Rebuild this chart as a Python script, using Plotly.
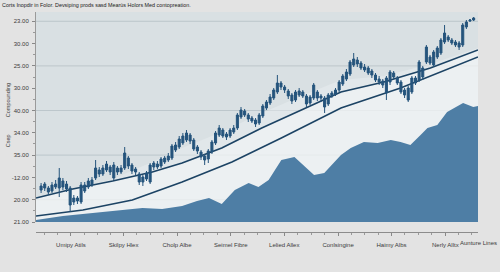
import plotly.graph_objects as go
import numpy as np

# ---------------- data ----------------
title_text = "Corts Inopdir in Folor. Devsiping prods sasd Mearùs Holors Med contopreation."

y_tick_labels = ["21.00", "20.00", "-12.00", "35.00", "34.00", "40.00", "30.00", "25.00", "30.00", "23.00"]
x_tick_labels = ["Umipy Atils", "Skilpy Hlex", "Cholp Albe", "Seimel Fibre", "Lelied Allex",
                 "Conlsingine", "Haimy Albs", "Nerly Alltx"]
x_tick_pos = [8.2, 22.7, 37.4, 52.2, 66.9, 81.7, 96.4, 111.2]
last_label = "Aunture Lines"

opens = [32, 38, 34, 31, 35, 34, 41, 33, 34, 20, 24, 20, 31, 35, 37, 44, 52, 48, 52, 55,
         44, 54, 50, 54, 64, 57, 53, 48, 40, 43, 40, 55, 58, 56, 60, 62, 64, 72, 75, 79,
         82, 87, 82, 75, 70, 66, 63, 70, 79, 87, 92, 88, 86, 90, 94, 105, 111, 107, 104, 102,
         99, 106, 114, 119, 124, 130, 139, 135, 131, 127, 122, 127, 130, 126, 119, 124, 130, 126, 124, 118,
         126, 128, 132, 138, 143, 148, 157, 162, 159, 155, 154, 151, 147, 143, 141, 144, 140, 145, 144, 140,
         132, 134, 130, 139, 142, 145, 160, 165, 157, 165, 169, 180, 185, 182, 180, 175, 177, 195, 201, 202]
closes = [36, 34, 30, 37, 38, 44, 35, 38, 17, 24, 21, 37, 37, 41, 42, 54, 48, 54, 58, 50,
          57, 50, 54, 69, 56, 51, 50, 40, 45, 49, 57, 59, 55, 63, 64, 66, 76, 77, 83, 86,
          89, 81, 73, 71, 65, 62, 71, 80, 89, 94, 86, 85, 92, 94, 107, 112, 107, 103, 101, 98,
          107, 116, 120, 125, 132, 139, 135, 132, 126, 121, 130, 131, 126, 118, 125, 137, 124, 124, 115, 127,
          129, 132, 140, 146, 150, 160, 163, 158, 154, 152, 149, 147, 142, 140, 137, 129, 150, 149, 139, 130,
          127, 122, 144, 144, 160, 154, 175, 159, 170, 174, 182, 189, 182, 179, 177, 179, 197, 200, 202, 204]
highs = [39, 40, 36, 40, 42, 54, 44, 41, 36, 27, 26, 40, 40, 44, 45, 62, 55, 57, 61, 57,
         60, 56, 57, 75, 66, 59, 55, 50, 47, 51, 59, 61, 61, 65, 66, 69, 78, 80, 86, 89,
         92, 89, 84, 77, 72, 68, 73, 82, 91, 97, 94, 90, 94, 97, 109, 115, 113, 109, 106, 104,
         109, 118, 122, 128, 134, 147, 141, 137, 133, 129, 132, 134, 132, 128, 127, 139, 132, 128, 126, 129,
         131, 134, 142, 148, 153, 162, 169, 165, 161, 158, 156, 153, 149, 146, 143, 146, 152, 151, 146, 142,
         134, 136, 146, 146, 162, 156, 177, 167, 172, 176, 184, 197, 187, 184, 182, 181, 199, 202, 203, 205]
lows = [29, 31, 27, 29, 33, 25, 32, 30, 10, 17, 18, 18, 29, 33, 35, 42, 45, 46, 50, 47,
        42, 47, 48, 52, 53, 48, 47, 37, 36, 41, 38, 52, 53, 54, 58, 60, 62, 70, 73, 77,
        80, 78, 71, 68, 62, 57, 59, 68, 77, 85, 84, 82, 84, 88, 92, 103, 105, 100, 99, 95,
        97, 104, 112, 117, 122, 128, 132, 129, 123, 118, 120, 125, 124, 115, 117, 122, 121, 120, 109, 116,
        124, 126, 130, 136, 141, 146, 155, 155, 152, 150, 147, 144, 140, 137, 134, 122, 137, 143, 137, 128,
        124, 120, 128, 137, 140, 142, 158, 157, 155, 163, 167, 178, 180, 177, 175, 172, 175, 193, 200, 201]

ma_x = [-1.4, 8.7, 19.7, 30.6, 38.8, 49.7, 60.7, 71.6, 82.5, 94.3, 107.1, 120.2]
ma_fast = [24, 33, 41, 50, 59, 74, 94, 112, 130, 140, 154, 172]
band_top = [24, 33, 43, 60, 74, 90, 109, 126, 142, 146, 158, 174]

slow_x = [-1.4, 11.5, 25.1, 38.8, 52.5, 66.1, 82.5, 98.9, 120.2]
ma_slow = [6, 12, 22, 40, 60, 84, 114, 134, 165]

area_x = [-1.4, 6.0, 14.2, 22.4, 27.9, 33.3, 38.8, 42.9, 46.2, 49.7, 53.3, 57.1, 59.8, 62.6,
          66.1, 69.7, 72.4, 75.1, 77.9, 82.5, 85.2, 88.8, 92.6, 96.2, 98.9, 101.6, 104.4,
          106.3, 109.0, 111.7, 116.1, 118.9, 120.2]
area_y = [2, 6, 9, 12, 14, 13, 16, 21, 24, 18, 32, 39, 35, 42, 62, 65, 56, 47, 49, 67, 74, 80,
          79, 82, 80, 77, 87, 94, 97, 110, 119, 115, 116]

# ---------------- styles ----------------
candle_c = "#25547c"
line_c = "#1c4364"
area_c = "#4e7ea5"
tick_font = dict(family="Arial", size=6, color="#3a3a3a")
x_range = [-1.4, 120.2]
y_range = [0, 210]

idx = list(range(len(opens)))
y_step = 22.3
y_tickvals = [i * y_step for i in range(len(y_tick_labels))]
y_minor = [(i + 0.5) * y_step for i in range(len(y_tick_labels) - 1)]
x_minor = []
for a, b in zip(x_tick_pos[:-1], x_tick_pos[1:]):
    x_minor += list(np.linspace(a, b, 5)[1:-1])
x_minor += [x_tick_pos[0] - (x_tick_pos[1] - x_tick_pos[0]) * f for f in (0.25, 0.5)]
x_minor += [x_tick_pos[-1] + (x_tick_pos[1] - x_tick_pos[0]) * f for f in (0.25, 0.5)]

fig = go.Figure()
fig.add_trace(go.Scatter(x=ma_x, y=band_top, mode="lines", line=dict(width=0),
                         fill="tozeroy", fillcolor="rgba(236,240,241,0.45)", hoverinfo="skip"))
fig.add_trace(go.Scatter(x=ma_x, y=ma_fast, mode="lines", line=dict(width=0),
                         fill="tozeroy", fillcolor="rgba(246,248,248,0.55)", hoverinfo="skip"))
fig.add_trace(go.Scatter(x=area_x, y=area_y, mode="lines", line=dict(width=0, color=area_c),
                         fill="tozeroy", fillcolor=area_c))
fig.add_trace(go.Scatter(x=slow_x, y=ma_slow, mode="lines", line=dict(width=1.6, color=line_c)))
fig.add_trace(go.Scatter(x=ma_x, y=ma_fast, mode="lines", line=dict(width=1.6, color=line_c)))
# candles on an overlaying pair of axes so they are drawn above the filled areas
fig.add_trace(go.Candlestick(
    x=idx, open=opens, high=highs, low=lows, close=closes, xaxis="x2", yaxis="y2",
    increasing=dict(line=dict(color=candle_c, width=1), fillcolor=candle_c),
    decreasing=dict(line=dict(color=candle_c, width=1), fillcolor=candle_c),
    whiskerwidth=0))

shapes = []
for v in y_tickvals[1::2]:
    shapes.append(dict(type="line", xref="x domain", x0=0, x1=1, yref="y", y0=v, y1=v,
                       line=dict(color="rgba(170,182,188,0.6)", width=1), layer="below"))

fig.update_layout(
    width=500, height=272,
    margin=dict(l=33, r=22, t=12, b=40),
    paper_bgcolor="#e3e3e3",
    plot_bgcolor="#d9e0e3",
    showlegend=False,
    boxgap=0.2,
    shapes=shapes,
    title=dict(text=title_text, xref="container", yref="container", x=0.004, y=0.982,
               xanchor="left", yanchor="middle",
               font=dict(family="Arial", size=5.4, color="#222")),
    xaxis=dict(range=x_range, rangeslider=dict(visible=False), anchor="free", position=0,
               tickvals=x_tick_pos, ticktext=x_tick_labels, tickfont=tick_font,
               showgrid=False, zeroline=False, showline=True, linecolor="#8c8c8c", linewidth=1,
               ticks="outside", ticklen=3, tickcolor="#888", ticklabelstandoff=4,
               minor=dict(tickvals=x_minor, ticks="outside", ticklen=2, tickcolor="#999")),
    yaxis=dict(range=y_range, domain=[10 / 220, 1], tickvals=y_tickvals, ticktext=y_tick_labels,
               tickfont=tick_font, showgrid=False, zeroline=False, showline=True,
               linecolor="#9a9a9a", linewidth=1, ticks="outside", ticklen=3, tickcolor="#888",
               ticklabelstandoff=2,
               minor=dict(tickvals=y_minor, ticks="outside", ticklen=2, tickcolor="#999")),
    xaxis2=dict(range=x_range, overlaying="x", anchor="y2", visible=False,
                rangeslider=dict(visible=False)),
    yaxis2=dict(range=y_range, overlaying="y", anchor="x2", visible=False),
    annotations=[
        dict(text=last_label, xref="paper", yref="paper", x=(499 - 33) / 445, y=(232 - 243) / 220,
             showarrow=False, font=tick_font, xanchor="right", yanchor="middle"),
        dict(text="Compounding", xref="paper", yref="paper", x=(5 - 33) / 445, y=(232 - 100) / 220,
             textangle=-90, showarrow=False, font=dict(family="Arial", size=5.5, color="#444"),
             xanchor="center", yanchor="middle"),
        dict(text="Csep", xref="paper", yref="paper", x=(5 - 33) / 445, y=(232 - 141) / 220,
             textangle=-90, showarrow=False, font=dict(family="Arial", size=5.5, color="#444"),
             xanchor="center", yanchor="middle"),
    ],
)

fig.write_html("out.html")
